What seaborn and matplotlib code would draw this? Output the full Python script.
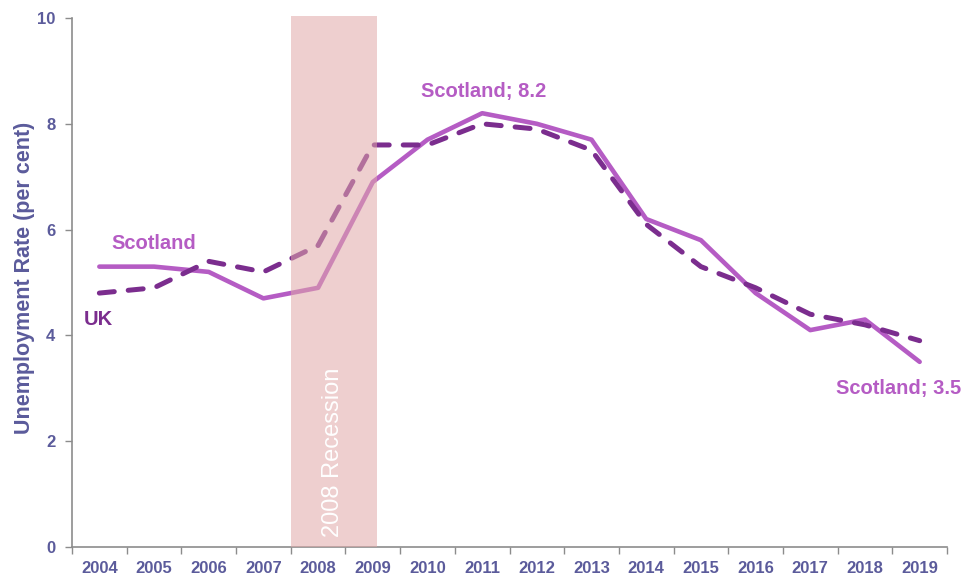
import matplotlib
matplotlib.use("Agg")
import matplotlib.pyplot as plt
import seaborn as sns
import pandas as pd
import numpy as np

years = ["2004", "2005", "2006", "2007", "2008", "2009", "2010", "2011",
         "2012", "2013", "2014", "2015", "2016", "2017", "2018", "2019"]
scotland = [5.3, 5.3, 5.2, 4.7, 4.9, 6.9, 7.7, 8.2, 8.0, 7.7, 6.2, 5.8, 4.8, 4.1, 4.3, 3.5]
uk = [4.8, 4.9, 5.4, 5.2, 5.7, 7.6, 7.6, 8.0, 7.9, 7.5, 6.1, 5.3, 4.9, 4.4, 4.2, 3.9]
yticks = [0, 2, 4, 6, 8, 10]

sns.set_style("white")
plt.rcParams['font.family'] = ['Liberation Sans', 'DejaVu Sans']

SCOT = "#B55CC4"
UKC = "#7B2D8E"
TXT = "#5B5B9B"
GRID = "#8C8C8C"

df = pd.DataFrame({"idx": np.arange(len(years)), "Scotland": scotland, "UK": uk})

fig = plt.figure(figsize=(9.63, 5.77), dpi=100)
ax = fig.add_axes([72/963, 1-547/577, (947-72)/963, (547-18)/577])

sns.lineplot(data=df, x="idx", y="UK", ax=ax, color=UKC, linewidth=3.6,
             linestyle=(0, (3.0, 2.8)), dash_capstyle="round", zorder=3)
sns.lineplot(data=df, x="idx", y="Scotland", ax=ax, color=SCOT, linewidth=3.3,
             solid_capstyle="round", zorder=2)

# recession band (drawn on top, semi-transparent)
ax.add_patch(plt.Rectangle((3.5, 0), 1.58, 10.04, facecolor="#E0A8A8",
                           alpha=0.55, edgecolor="none", zorder=4, clip_on=False))
ax.text(4.28, 1.79, "2008 Recession", rotation=90, color="white", fontsize=17,
        ha="center", va="center", zorder=5)

ax.set_xlim(-0.5, len(years) - 0.5)
ax.set_ylim(0, 10)
ax.set_xticks(np.arange(len(years)))
ax.set_xticklabels(years)
ax.set_xticks(np.arange(len(years) + 1) - 0.5, minor=True)
ax.set_yticks(yticks)
ax.set_yticklabels([str(v) for v in yticks])

ax.tick_params(axis="x", which="major", length=0, pad=10, labelsize=12, labelcolor=TXT)
ax.tick_params(axis="x", which="minor", length=5, width=1, color=GRID, direction="out", bottom=True)
ax.tick_params(axis="y", which="major", length=5, width=1, color=GRID, direction="out",
               labelsize=12, labelcolor=TXT, pad=7, left=True)
for lab in ax.get_xticklabels() + ax.get_yticklabels():
    lab.set_fontweight("bold")

for s in ["top", "right"]:
    ax.spines[s].set_visible(False)
for s in ["left", "bottom"]:
    ax.spines[s].set_color(GRID)
    ax.spines[s].set_linewidth(1.2)

ax.set_xlabel("")
ax.set_ylabel("Unemployment Rate (per cent)", fontsize=15.5, fontweight="bold", color=TXT)
ax.yaxis.set_label_coords(-0.042, 0.509)

ax.text(0.996, 5.73, "Scotland", color=SCOT, fontsize=14.5, fontweight="bold", ha="center", va="center")
ax.text(-0.02, 4.30, "UK", color=UKC, fontsize=14.5, fontweight="bold", ha="center", va="center")
ax.text(7.03, 8.61, "Scotland; 8.2", color=SCOT, fontsize=14.5, fontweight="bold", ha="center", va="center")
ax.text(14.62, 3.0, "Scotland; 3.5", color=SCOT, fontsize=14.5, fontweight="bold", ha="center", va="center",
        clip_on=False)

fig.savefig("out.png", dpi=100)
